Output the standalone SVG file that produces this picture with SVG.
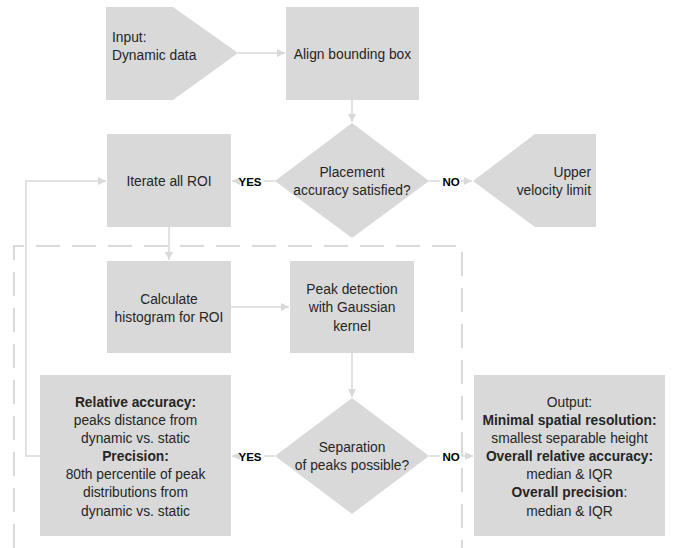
<svg xmlns="http://www.w3.org/2000/svg" width="678" height="548" viewBox="0 0 678 548">
<defs>
<style>
.n{fill:#D9D9D9;stroke:none}
.c{fill:none;stroke:#D9D9D9;stroke-width:1.5}
.t{font-family:"Liberation Sans",Arial,sans-serif;font-size:13.8px;fill:#262626}
.m{text-anchor:middle}
.e{text-anchor:end}
.b{font-weight:bold}
.l{font-family:"Liberation Sans",Arial,sans-serif;font-size:11.5px;font-weight:bold;fill:#000}
.d{fill:none;stroke:#D9D9D9;stroke-width:2;stroke-dasharray:24 12}
</style>
<marker id="ah" markerUnits="userSpaceOnUse" markerWidth="9" markerHeight="10" refX="8" refY="5" orient="auto">
<path d="M0,1 L8,5 L0,9 z" fill="#D9D9D9"/>
</marker>
</defs>
<rect width="678" height="548" fill="#fff"/>

<g id="group-box">
<path class="d" d="M14,548 V246 H462 V548"/>
</g>

<g id="connectors">
<path class="c" d="M238,53 H285" marker-end="url(#ah)"/>
<path class="c" d="M352,100 V122" marker-end="url(#ah)"/>
<path class="c" d="M275,181 H264 M236,181 H232" marker-end="url(#ah)"/>
<path class="c" d="M429,181 H440 M461,181 H472" marker-end="url(#ah)"/>
<path class="c" d="M169,227 V260" marker-end="url(#ah)"/>
<path class="c" d="M231,307 H289" marker-end="url(#ah)"/>
<path class="c" d="M352,353 V397" marker-end="url(#ah)"/>
<path class="c" d="M275,456 H264 M236,456 H232" marker-end="url(#ah)"/>
<path class="c" d="M429,456 H440 M461,456 H473" marker-end="url(#ah)"/>
<path class="c" d="M40,456 H26 V181 H106" marker-end="url(#ah)"/>
<text class="l m" x="250" y="185.5">YES</text>
<text class="l m" x="451" y="185.5">NO</text>
<text class="l m" x="250" y="460.5">YES</text>
<text class="l m" x="451" y="460.5">NO</text>
</g>

<g id="input">
<polygon class="n" points="106,7 173,7 238,53 173,100 106,100"/>
<text class="t" x="112" y="42">Input:</text>
<text class="t" x="112" y="60">Dynamic data</text>
</g>

<g id="align">
<rect class="n" x="286" y="7" width="133" height="93"/>
<text class="t m" x="352.5" y="59">Align bounding box</text>
</g>

<g id="placement">
<polygon class="n" points="352,123 429,181 352,238 275,181"/>
<text class="t m" x="352" y="177">Placement</text>
<text class="t m" x="352" y="195">accuracy satisfied?</text>
</g>

<g id="iterate">
<rect class="n" x="107" y="134" width="124" height="93"/>
<text class="t m" x="169" y="186">Iterate all ROI</text>
</g>

<g id="upper">
<polygon class="n" points="473,181 535,134 596,134 596,227 535,227"/>
<text class="t e" x="591" y="177">Upper</text>
<text class="t e" x="591" y="195">velocity limit</text>
</g>

<g id="histogram">
<rect class="n" x="107" y="261" width="124" height="92"/>
<text class="t m" x="169" y="304">Calculate</text>
<text class="t m" x="169" y="322">histogram for ROI</text>
</g>

<g id="peak">
<rect class="n" x="290" y="261" width="124" height="92"/>
<text class="t m" x="352" y="294">Peak detection</text>
<text class="t m" x="352" y="312">with Gaussian</text>
<text class="t m" x="352" y="331">kernel</text>
</g>

<g id="separation">
<polygon class="n" points="352,398 429,456 352,514 275,456"/>
<text class="t m" x="352" y="452">Separation</text>
<text class="t m" x="352" y="470">of peaks possible?</text>
</g>

<g id="accuracy">
<rect class="n" x="40" y="375" width="191" height="161"/>
<text class="t m b" x="135.5" y="407">Relative accuracy:</text>
<text class="t m" x="135.5" y="425">peaks distance from</text>
<text class="t m" x="135.5" y="443">dynamic vs. static</text>
<text class="t m b" x="135.5" y="461">Precision:</text>
<text class="t m" x="135.5" y="479">80th percentile of peak</text>
<text class="t m" x="135.5" y="497">distributions from</text>
<text class="t m" x="135.5" y="516">dynamic vs. static</text>
</g>

<g id="output">
<rect class="n" x="474" y="375" width="191" height="161"/>
<text class="t m" x="569.5" y="407">Output:</text>
<text class="t m b" x="569.5" y="425">Minimal spatial resolution:</text>
<text class="t m" x="569.5" y="443">smallest separable height</text>
<text class="t m b" x="569.5" y="461">Overall relative accuracy:</text>
<text class="t m" x="569.5" y="479">median &amp; IQR</text>
<text class="t m" x="569.5" y="497"><tspan font-weight="bold">Overall precision</tspan>:</text>
<text class="t m" x="569.5" y="516">median &amp; IQR</text>
</g>
</svg>
